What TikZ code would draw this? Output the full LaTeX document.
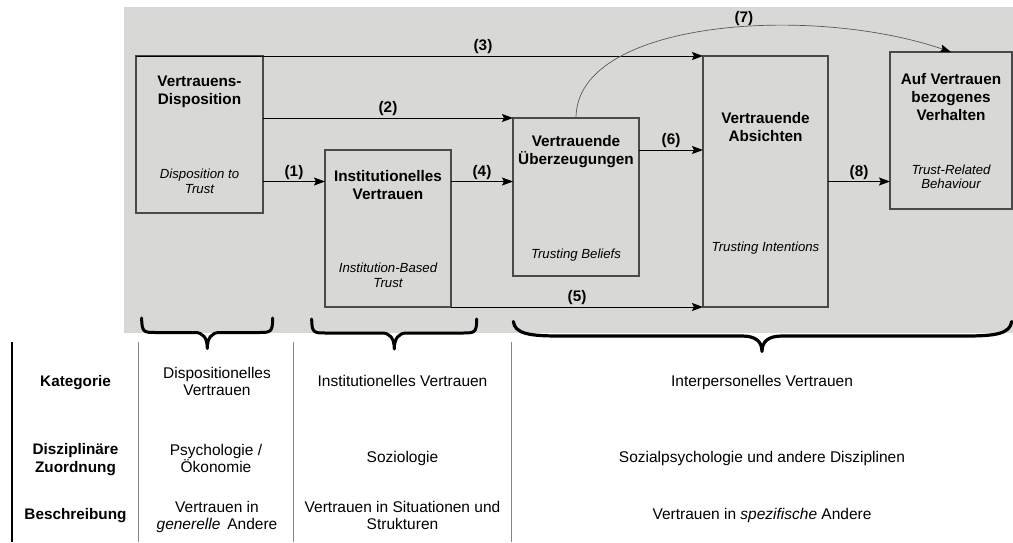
\documentclass[tikz,border=0pt]{standalone}
\usepackage{fontspec}
\setmainfont{Liberation Sans}
\usetikzlibrary{arrows.meta,calc}
\definecolor{panelgray}{RGB}{216,217,214}
\definecolor{boxline}{RGB}{74,74,74}
\definecolor{rulegray}{RGB}{135,135,135}
\lineskiplimit=-100pt
\lineskip=0pt

\begin{document}
\begin{tikzpicture}[x=1pt,y=-1pt,
  stage/.style={draw=boxline, line width=1.2pt, inner sep=0pt, outer sep=0pt,
    minimum width=#1},
  title/.style={font=\fontsize{15.3}{18}\selectfont\bfseries, align=center, inner sep=0pt},
  subtitle/.style={font=\fontsize{13.2}{14.8}\selectfont\itshape, align=center, inner sep=0pt},
  flow/.style={draw=black, line width=0.9pt, -{Stealth[length=11pt,width=8pt,inset=2pt]}},
  num/.style={font=\fontsize{15.3}{18}\selectfont\bfseries, inner sep=0pt, above=1.5pt},
  rowhead/.style={font=\fontsize{15.3}{17.4}\selectfont\bfseries, align=center, inner sep=0pt},
  cell/.style={font=\fontsize{15.5}{17}\selectfont, align=center, inner sep=0pt},
  curly/.style={draw=black, line width=3pt, line cap=round, line join=round},
  colrule/.style={draw=rulegray, line width=0.9pt}
]
\useasboundingbox (0,0) rectangle (1013,542);

% shaded panel behind the model
\fill[panelgray] (124,7) rectangle (1013,333);

% construct boxes
\node[stage=127pt, minimum height=157pt] (b1) at (199.5,134.5) {};
\node[stage=126pt, minimum height=157pt] (b2) at (388,228.5) {};
\node[stage=126pt, minimum height=158pt] (b3) at (576,197) {};
\node[stage=125pt, minimum height=251pt] (b4) at (765.5,181.5) {};
\node[stage=122pt, minimum height=157pt] (b5) at (951,130.5) {};

% box texts
\node[title] (t1) at (199.5,92.3) {Vertrauens-\\Disposition};
\node[subtitle] (s1) at (199.5,181) {Disposition to\\Trust};
\node[title] (t2) at (388,185) {Institutionelles\\Vertrauen};
\node[subtitle] (s2) at (388,275) {Institution-Based\\Trust};
\node[title] (t3) at (576,152) {Vertrauende\\Überzeugungen};
\node[subtitle] (s3) at (576,254.7) {Trusting Beliefs};
\node[title] (t4) at (765.5,126.7) {Vertrauende\\Absichten};
\node[subtitle] (s4) at (765.5,248) {Trusting Intentions};
\node[title] (t5) at (951,97.3) {Auf Vertrauen\\bezogenes\\Verhalten};
\node[subtitle] (s5) at (951,176.7) {Trust-Related\\Behaviour};

% connectors
\draw[flow] (b4.west -| b1.east) -- node[num] (n1) {(1)} (b4.west -| b2.west);
\draw[flow] (b3.north -| b1.east) -- node[num] (n2) {(2)} (b3.north west);
\draw[draw=black, line width=0.9pt] (b1.north west) -- (b1.north east);
\draw[flow] (b1.north east) -- node[num] (n3) {(3)} (b4.north west);
\draw[flow] (b4.west -| b2.east) -- node[num] (n4) {(4)} (b4.west -| b3.west);
\draw[flow] (b2.south east) -- node[num] (n5) {(5)} (b4.south west);
\draw[flow] (b3.east |- b2.north) -- node[num] (n6) {(6)} (b4.west |- b2.north);
\draw[draw=black!65, line width=0.7pt, -{Stealth[length=11pt,width=8pt,inset=2pt,color=black]}]
  (b3.north) .. controls +(0,-98) and +(-140,-48) .. node[pos=0.57, num, above=-1pt] (n7) {(7)} (b5.north);
\draw[flow] (b4.east) -- node[num] (n8) {(8)} (b4.east -| b5.west);

% braces grouping the constructs
\draw[curly] (141.7,318) .. controls (141.7,332.5) and (144,332.5) .. (156,332.5)
  -- (195,332.5) .. controls (203,332.5) and (207.3,338) .. (207.3,348.5)
  .. controls (207.3,338) and (211.6,332.5) .. (219.6,332.5)
  -- (258.4,332.5) .. controls (270.4,332.5) and (272.7,332.5) .. (272.7,318);
\draw[curly] (311.7,319) .. controls (311.7,333) and (314,333) .. (326,333)
  -- (382,333) .. controls (390,333) and (394.3,338.5) .. (394.3,349)
  .. controls (394.3,338.5) and (398.6,333) .. (406.6,333)
  -- (462.4,333) .. controls (474.4,333) and (476.7,333) .. (476.7,319);
\draw[curly, line width=3.2pt] (513.3,321.5) .. controls (515,334) and (530,336) .. (560,336)
  -- (742,336) .. controls (755,336) and (762,341) .. (762,351.5)
  .. controls (762,341) and (769,336) .. (782,336)
  -- (965,336) .. controls (995,336) and (1010,334) .. (1011.7,321.5);

% table rules
\draw[draw=black, line width=2pt] (12.3,342) -- (12.3,542);
\draw[colrule] (138.7,342) -- (138.7,542);
\draw[colrule] (293.3,342) -- (293.3,542);
\draw[colrule] (511.7,342) -- (511.7,542);

% row headings
\node[rowhead] (r1) at (75.5,382.3) {Kategorie};
\node[rowhead] (r2) at (75.5,459.4) {Disziplinäre\\Zuordnung};
\node[rowhead] (r3) at (75.5,515.6) {Beschreibung};

% column entries
\node[cell] (c11) at (217,381.8) {Dispositionelles\\Vertrauen};
\node[cell] (c12) at (402.5,380.7) {Institutionelles Vertrauen};
\node[cell] (c13) at (762,382.3) {Interpersonelles Vertrauen};
\node[cell] (c21) at (216,458.5) {Psychologie /\\Ökonomie};
\node[cell] (c22) at (402.5,458.9) {Soziologie};
\node[cell] (c23) at (762,458.9) {Sozialpsychologie und andere Disziplinen};
\node[cell] (c31) at (217,517.4) {Vertrauen in\\\textit{generelle}\hspace{0.45em}Andere};
\node[cell] (c32) at (402.5,515.8) {Vertrauen in Situationen und\\Strukturen};
\node[cell] (c33) at (762,515.6) {Vertrauen in \textit{spezifische} Andere};
\end{tikzpicture}
\end{document}
